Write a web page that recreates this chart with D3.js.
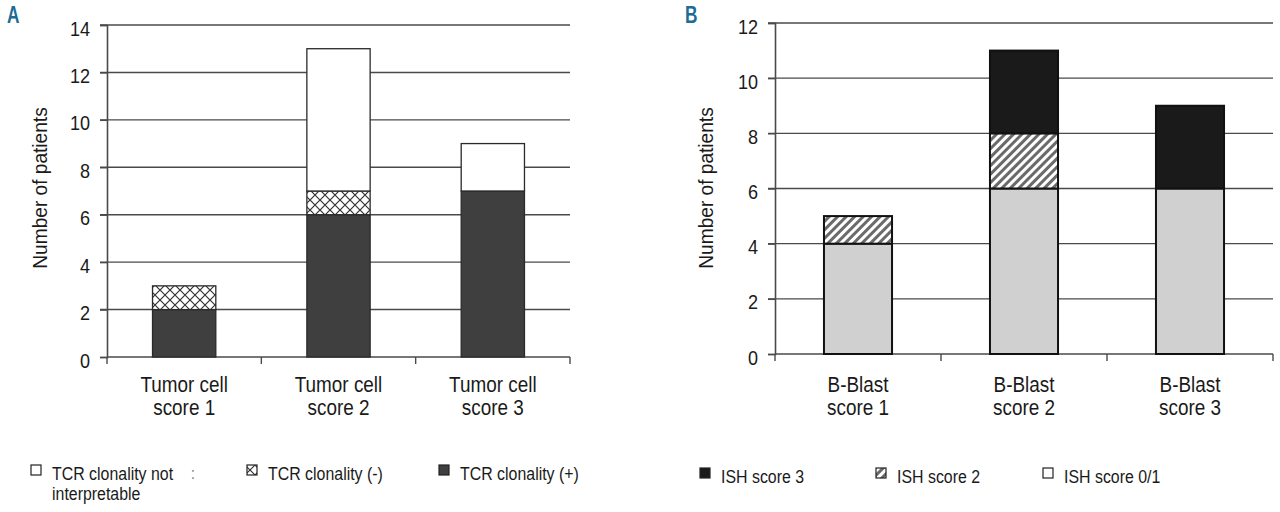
<!DOCTYPE html>
<html>
<head>
<meta charset="utf-8">
<script src="https://cdn.jsdelivr.net/npm/d3@7"></script>
<style>
  body { margin: 0; background: #fff; }
  svg text { font-family: "Liberation Sans", Arial, sans-serif; fill: #1a1a1a; }
</style>
</head>
<body>
<svg id="chart" width="1280" height="512"></svg>
<script>
// Panel A data
const catsA = [['Tumor cell', 'score 1'], ['Tumor cell', 'score 2'], ['Tumor cell', 'score 3']];
const tcrPos = [2, 6, 7];
const tcrNeg = [1, 1, 0];
const tcrNotInterp = [0, 6, 2];
const ticksA = [0, 2, 4, 6, 8, 10, 12, 14];

// Panel B data
const catsB = [['B-Blast', 'score 1'], ['B-Blast', 'score 2'], ['B-Blast', 'score 3']];
const ish01 = [4, 6, 6];
const ish2 = [1, 2, 0];
const ish3 = [0, 3, 3];
const ticksB = [0, 2, 4, 6, 8, 10, 12];

const svg = d3.select('#chart');
const SX = 0.86; // horizontal squeeze, the original uses a condensed face

// patterns
let defs = svg.append('defs');
let cross = defs.append('pattern')
    .attr('id', 'cross')
    .attr('patternUnits', 'userSpaceOnUse')
    .attr('width', 10).attr('height', 10);
cross.append('rect').attr('width', 10).attr('height', 10).attr('fill', '#fff');
cross.append('path').attr('d', 'M0,0 L10,10 M10,0 L0,10 M-1,9 L1,11 M9,-1 L11,1')
    .attr('stroke', '#333').attr('stroke-width', 1.2);

let stripe = defs.append('pattern')
    .attr('id', 'stripe')
    .attr('patternUnits', 'userSpaceOnUse')
    .attr('width', 6).attr('height', 6)
    .attr('patternTransform', 'rotate(45)');
stripe.append('rect').attr('width', 6).attr('height', 6).attr('fill', '#fff');
stripe.append('rect').attr('width', 3).attr('height', 6).attr('fill', '#6a6a6a');

// text placed at (x, y), squeezed horizontally
function label(parent, x, y, size, anchor) {
    return parent.append('g')
        .attr('transform', 'translate(' + x + ',' + y + ')')
        .append('text')
        .attr('transform', 'scale(' + SX + ',1)')
        .attr('text-anchor', anchor || 'start')
        .attr('font-size', size);
}

function drawPanel(cfg) {
    let x = d3.scaleBand()
        .domain(d3.range(cfg.cats.length))
        .range([cfg.left, cfg.right])
        .paddingInner(0.59).paddingOuter(0.295);
    let y = d3.scaleLinear()
        .domain([0, cfg.max])
        .range([cfg.bottom, cfg.top]);

    let g = svg.append('g');

    // gridlines
    g.selectAll('line.grid')
        .data(cfg.ticks.filter(t => t > 0))
        .enter().append('line')
        .attr('x1', cfg.left - 7).attr('x2', cfg.right)
        .attr('y1', d => y(d)).attr('y2', d => y(d))
        .attr('stroke', '#4a4a4a')
        .attr('stroke-width', 1.4);

    // y axis
    let yAxis = g.append('g')
        .attr('transform', 'translate(' + cfg.left + ',0)')
        .call(d3.axisLeft(y).tickValues(cfg.ticks).tickSize(7));
    yAxis.select('.domain').attr('stroke', '#4a4a4a').attr('stroke-width', 1.6);
    yAxis.selectAll('.tick line').attr('stroke', '#4a4a4a').attr('stroke-width', 1.4);
    yAxis.selectAll('.tick text')
        .attr('x', 0).attr('dy', null).attr('y', 0)
        .attr('transform', 'translate(-17,10) scale(' + SX + ',1)')
        .attr('font-size', 21)
        .attr('font-family', null)
        .attr('fill', '#1a1a1a');

    // x axis
    let xStep = (cfg.right - cfg.left) / cfg.cats.length;
    g.append('line')
        .attr('x1', cfg.left).attr('x2', cfg.right)
        .attr('y1', cfg.bottom).attr('y2', cfg.bottom)
        .attr('stroke', '#4a4a4a').attr('stroke-width', 1.6);
    g.selectAll('line.xtick')
        .data(d3.range(cfg.cats.length + 1))
        .enter().append('line')
        .attr('x1', d => cfg.left + d * xStep).attr('x2', d => cfg.left + d * xStep)
        .attr('y1', cfg.bottom).attr('y2', cfg.bottom + 7)
        .attr('stroke', '#4a4a4a').attr('stroke-width', 1.4);

    // category labels
    cfg.cats.forEach((c, i) => {
        let t = label(g, x(i) + x.bandwidth() / 2, cfg.catY, 22, 'middle');
        t.append('tspan').attr('x', 0).text(c[0]);
        t.append('tspan').attr('x', 0).attr('dy', 23.5).text(c[1]);
    });

    // stacked bars
    let stack = d3.stack().keys(d3.range(cfg.series.length))
        .value((d, k) => cfg.series[k][d]);
    let layers = stack(d3.range(cfg.cats.length));
    layers.forEach((layer, k) => {
        g.selectAll('rect.s' + k)
            .data(layer.map((v, i) => ({v: v, i: i})).filter(d => d.v[1] > d.v[0]))
            .enter().append('rect')
            .attr('x', d => x(d.i))
            .attr('width', x.bandwidth())
            .attr('y', d => y(d.v[1]))
            .attr('height', d => y(d.v[0]) - y(d.v[1]))
            .attr('fill', cfg.fills[k])
            .attr('stroke', cfg.stroke)
            .attr('stroke-width', cfg.strokeWidth);
    });

    // y title
    g.append('text')
        .attr('transform', 'translate(' + cfg.titleX + ',' + cfg.titleY + ') rotate(-90) scale(0.98,1)')
        .attr('text-anchor', 'middle')
        .attr('font-size', 19.5)
        .text('Number of patients');

    // panel letter
    label(g, cfg.letterX, 23, 24)
        .attr('font-weight', 'bold')
        .attr('transform', 'scale(0.72,1)')
        .style('fill', '#1c6c94')
        .text(cfg.letter);

    // legend
    cfg.legend.forEach(d => {
        g.append('rect')
            .attr('x', d.x).attr('y', cfg.legendY - 15)
            .attr('width', 10).attr('height', 10)
            .attr('fill', d.fill)
            .attr('stroke', '#222').attr('stroke-width', 1.2);
        let t = label(g, d.x + 21, cfg.legendY, 18.5);
        t.selectAll('tspan')
            .data(d.label)
            .enter().append('tspan')
            .attr('x', 0)
            .attr('dy', (s, i) => i === 0 ? 0 : 20)
            .text(s => s);
        if (d.colon) {
            label(g, d.colon, cfg.legendY - 1, 16).style('fill', '#777').text(':');
        }
    });
}

drawPanel({
    letter: 'A', letterX: 7,
    cats: catsA, series: [tcrPos, tcrNeg, tcrNotInterp],
    fills: ['#3f3f3f', 'url(#cross)', '#ffffff'],
    stroke: '#2a2a2a', strokeWidth: 1.3,
    left: 107, right: 570, top: 25, bottom: 357, max: 14, ticks: ticksA,
    catY: 392,
    titleX: 47, titleY: 188,
    legendY: 480,
    legend: [
        {x: 31, fill: '#ffffff', label: ['TCR clonality not', 'interpretable'], colon: 191},
        {x: 247, fill: 'url(#cross)', label: ['TCR clonality (-)']},
        {x: 439, fill: '#3f3f3f', label: ['TCR clonality (+)']}
    ]
});

drawPanel({
    letter: 'B', letterX: 685,
    cats: catsB, series: [ish01, ish2, ish3],
    fills: ['#d0d0d0', 'url(#stripe)', '#1a1a1a'],
    stroke: '#111', strokeWidth: 2,
    left: 775, right: 1273, top: 23, bottom: 354, max: 12, ticks: ticksB,
    catY: 392,
    titleX: 713, titleY: 188,
    legendY: 483,
    legend: [
        {x: 700, fill: '#1a1a1a', label: ['ISH score 3']},
        {x: 876, fill: 'url(#stripe)', label: ['ISH score 2']},
        {x: 1043, fill: '#ffffff', label: ['ISH score 0/1']}
    ]
});
</script>
</body>
</html>
